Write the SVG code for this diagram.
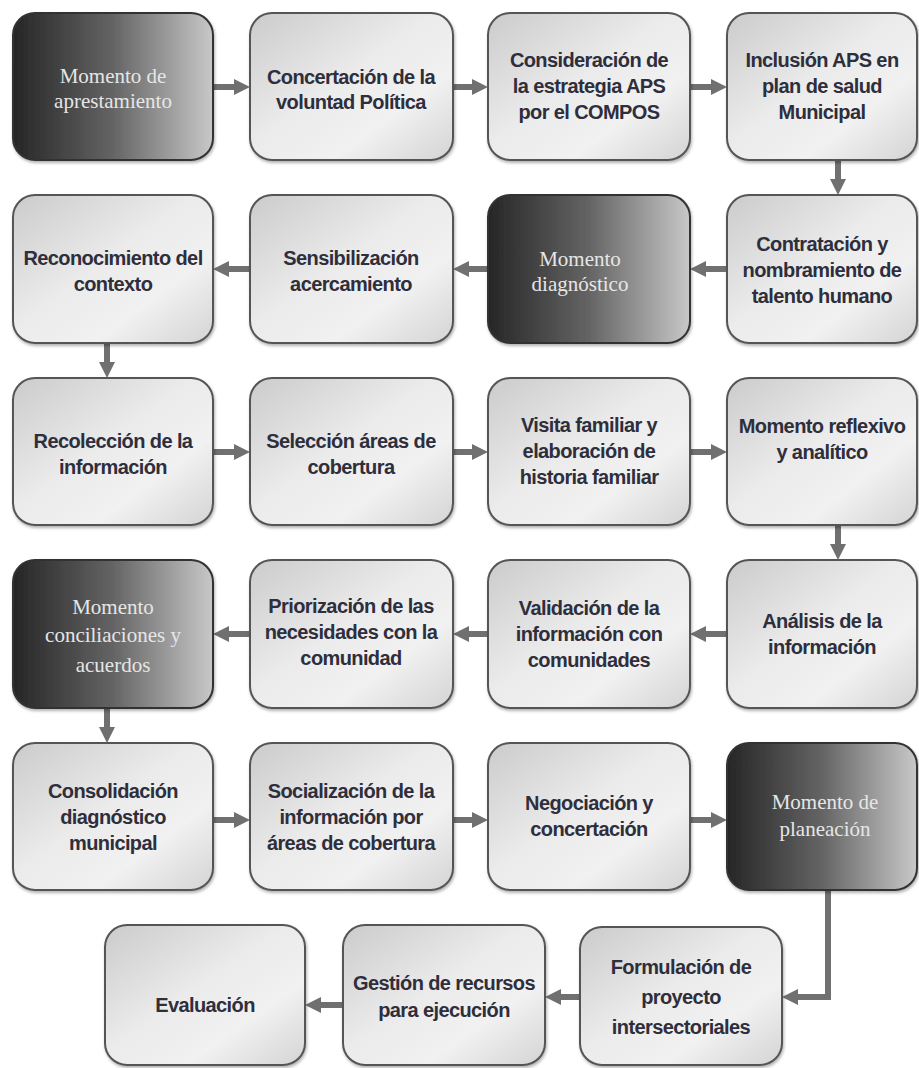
<svg xmlns="http://www.w3.org/2000/svg" width="919" height="1068" viewBox="0 0 919 1068">
<defs>
<linearGradient id="gl" x1="0" y1="0" x2="1" y2="1">
<stop offset="0" stop-color="#cbcbcb"/>
<stop offset="0.45" stop-color="#ebebeb"/>
<stop offset="0.7" stop-color="#f1f1f1"/>
<stop offset="1" stop-color="#d4d4d4"/>
</linearGradient>
<linearGradient id="gd" x1="0" y1="0" x2="1" y2="0">
<stop offset="0" stop-color="#262626"/>
<stop offset="0.5" stop-color="#646464"/>
<stop offset="1" stop-color="#c8c8c8"/>
</linearGradient>
<filter id="sh" x="-10%" y="-10%" width="120%" height="120%">
<feDropShadow dx="1" dy="2" stdDeviation="1.5" flood-color="#000" flood-opacity="0.3"/>
</filter>
<marker id="ah" markerWidth="16" markerHeight="16" refX="4" refY="8" orient="auto" markerUnits="userSpaceOnUse">
<path d="M0,0 L16,8 L0,16 Z" fill="#707070"/>
</marker>
<style>
.lb{fill:url(#gl);stroke:#555;stroke-width:2;filter:url(#sh)}
.db{fill:url(#gd);stroke:#333;stroke-width:2;filter:url(#sh)}
.lt{font-family:"Liberation Sans",Arial,sans-serif;font-size:20px;font-weight:bold;fill:#2e2e3c;text-anchor:middle;dominant-baseline:central;letter-spacing:-0.6px}
.dt{font-family:"Liberation Serif","Times New Roman",serif;font-size:21px;fill:#e6e6e6;text-anchor:middle;dominant-baseline:central}
.cn{fill:none;stroke:#707070;stroke-width:6;marker-end:url(#ah)}
</style>
</defs>
<rect width="919" height="1068" fill="#fff"/>

<g id="connectors">
<path class="cn" d="M213,87 H238"/>
<path class="cn" d="M453,87 H476"/>
<path class="cn" d="M690,87 H715"/>
<path class="cn" d="M838,160 V183"/>
<path class="cn" d="M727,269 H702"/>
<path class="cn" d="M488,269 H465"/>
<path class="cn" d="M250,269 H225"/>
<path class="cn" d="M107,343 V366"/>
<path class="cn" d="M213,452 H238"/>
<path class="cn" d="M453,452 H476"/>
<path class="cn" d="M690,452 H715"/>
<path class="cn" d="M838,525 V548"/>
<path class="cn" d="M727,634 H702"/>
<path class="cn" d="M488,634 H465"/>
<path class="cn" d="M250,634 H225"/>
<path class="cn" d="M107,708 V731"/>
<path class="cn" d="M213,820 H238"/>
<path class="cn" d="M453,820 H476"/>
<path class="cn" d="M690,820 H715"/>
<path class="cn" d="M828,890 V997 H794"/>
<path class="cn" d="M580,997 H557"/>
<path class="cn" d="M343,1005 H317"/>
</g>

<g id="n1"><rect class="db" x="13" y="13" width="200" height="147" rx="22"/>
<text class="dt" x="113" y="76">Momento de</text><text class="dt" x="113" y="101">aprestamiento</text></g>
<g id="n2"><rect class="lb" x="250" y="13" width="203" height="147" rx="22"/>
<text class="lt" x="351" y="77">Concertación de la</text><text class="lt" x="351" y="102">voluntad Política</text></g>
<g id="n3"><rect class="lb" x="488" y="13" width="202" height="147" rx="22"/>
<text class="lt" x="589" y="60">Consideración de</text><text class="lt" x="589" y="86">la estrategia APS</text><text class="lt" x="589" y="112">por el COMPOS</text></g>
<g id="n4"><rect class="lb" x="727" y="13" width="190" height="147" rx="22"/>
<text class="lt" x="822" y="60">Inclusión APS en</text><text class="lt" x="822" y="86">plan de salud</text><text class="lt" x="822" y="112">Municipal</text></g>

<g id="n5"><rect class="lb" x="727" y="195" width="190" height="148" rx="22"/>
<text class="lt" x="822" y="244">Contratación y</text><text class="lt" x="822" y="270">nombramiento de</text><text class="lt" x="822" y="296">talento humano</text></g>
<g id="n6"><rect class="db" x="488" y="195" width="202" height="148" rx="22"/>
<text class="dt" x="580" y="259">Momento</text><text class="dt" x="580" y="284">diagnóstico</text></g>
<g id="n7"><rect class="lb" x="250" y="195" width="203" height="148" rx="22"/>
<text class="lt" x="351" y="258">Sensibilización</text><text class="lt" x="351" y="284">acercamiento</text></g>
<g id="n8"><rect class="lb" x="13" y="195" width="200" height="148" rx="22"/>
<text class="lt" x="113" y="258">Reconocimiento del</text><text class="lt" x="113" y="284">contexto</text></g>

<g id="n9"><rect class="lb" x="13" y="378" width="200" height="147" rx="22"/>
<text class="lt" x="113" y="441">Recolección de la</text><text class="lt" x="113" y="467">información</text></g>
<g id="n10"><rect class="lb" x="250" y="378" width="203" height="147" rx="22"/>
<text class="lt" x="351" y="441">Selección áreas de</text><text class="lt" x="351" y="467">cobertura</text></g>
<g id="n11"><rect class="lb" x="488" y="378" width="202" height="147" rx="22"/>
<text class="lt" x="589" y="425">Visita familiar y</text><text class="lt" x="589" y="451">elaboración de</text><text class="lt" x="589" y="477">historia familiar</text></g>
<g id="n12"><rect class="lb" x="727" y="378" width="190" height="147" rx="22"/>
<text class="lt" x="822" y="426">Momento reflexivo</text><text class="lt" x="822" y="452">y analítico</text></g>

<g id="n13"><rect class="lb" x="727" y="560" width="190" height="148" rx="22"/>
<text class="lt" x="822" y="621">Análisis de la</text><text class="lt" x="822" y="647">información</text></g>
<g id="n14"><rect class="lb" x="488" y="560" width="202" height="148" rx="22"/>
<text class="lt" x="589" y="608">Validación de la</text><text class="lt" x="589" y="634">información con</text><text class="lt" x="589" y="660">comunidades</text></g>
<g id="n15"><rect class="lb" x="250" y="560" width="203" height="148" rx="22"/>
<text class="lt" x="351" y="606">Priorización de las</text><text class="lt" x="351" y="632">necesidades con la</text><text class="lt" x="351" y="658">comunidad</text></g>
<g id="n16"><rect class="db" x="13" y="560" width="200" height="148" rx="22"/>
<text class="dt" x="113" y="607">Momento</text><text class="dt" x="113" y="635">conciliaciones y</text><text class="dt" x="113" y="665">acuerdos</text></g>

<g id="n17"><rect class="lb" x="13" y="743" width="200" height="147" rx="22"/>
<text class="lt" x="113" y="791">Consolidación</text><text class="lt" x="113" y="817">diagnóstico</text><text class="lt" x="113" y="843">municipal</text></g>
<g id="n18"><rect class="lb" x="250" y="743" width="203" height="147" rx="22"/>
<text class="lt" x="351" y="791">Socialización de la</text><text class="lt" x="351" y="817">información por</text><text class="lt" x="351" y="843">áreas de cobertura</text></g>
<g id="n19"><rect class="lb" x="488" y="743" width="202" height="147" rx="22"/>
<text class="lt" x="589" y="803">Negociación y</text><text class="lt" x="589" y="829">concertación</text></g>
<g id="n20"><rect class="db" x="727" y="743" width="190" height="147" rx="22"/>
<text class="dt" x="825" y="802">Momento de</text><text class="dt" x="825" y="829">planeación</text></g>

<g id="n21"><rect class="lb" x="580" y="927" width="202" height="138" rx="22"/>
<text class="lt" x="681" y="967">Formulación de</text><text class="lt" x="681" y="997">proyecto</text><text class="lt" x="681" y="1027">intersectoriales</text></g>
<g id="n22"><rect class="lb" x="343" y="925" width="202" height="140" rx="22"/>
<text class="lt" x="444" y="983">Gestión de recursos</text><text class="lt" x="444" y="1010">para ejecución</text></g>
<g id="n23"><rect class="lb" x="105" y="925" width="200" height="140" rx="22"/>
<text class="lt" x="205" y="1005">Evaluación</text></g>
</svg>
